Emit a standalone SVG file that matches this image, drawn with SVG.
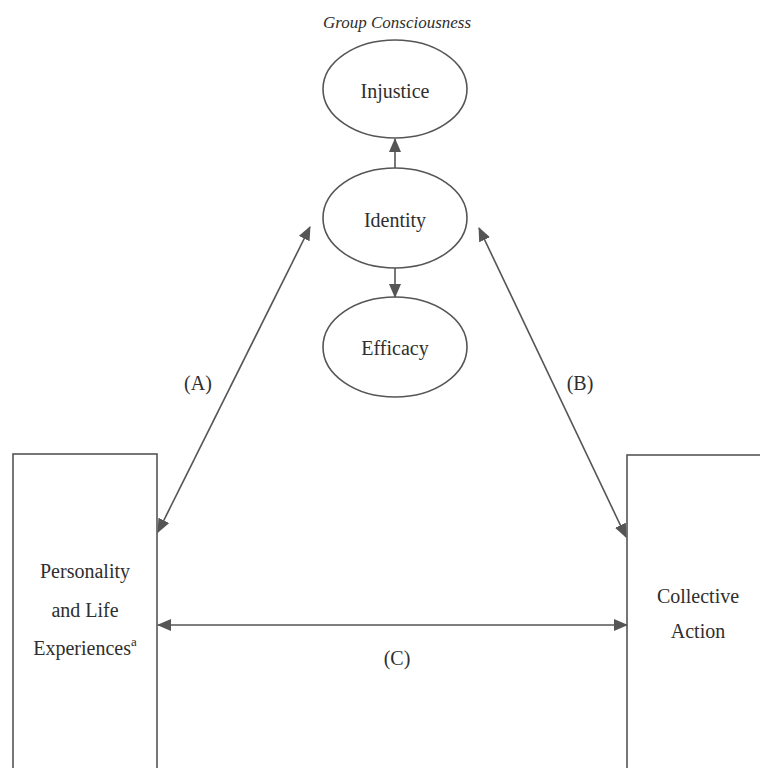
<svg xmlns="http://www.w3.org/2000/svg" width="760" height="768" viewBox="0 0 760 768">
<style>
.t{font-family:"Liberation Serif","Times New Roman",serif;font-size:20px;fill:#2e2e2e;text-anchor:middle}
.shape{fill:none;stroke:#555;stroke-width:1.6}
.c{stroke:#555;stroke-width:1.6;fill:none}
</style>
<defs>
<marker id="ah" markerUnits="userSpaceOnUse" markerWidth="14" markerHeight="12" refX="13" refY="6" orient="auto-start-reverse" viewBox="0 0 14 12">
<path d="M0,0 L14,6 L0,12 Z" fill="#555"/>
</marker>
</defs>
<rect width="760" height="768" fill="#fff"/>
<text class="t" x="397" y="28" style="font-style:italic;font-size:17px">Group Consciousness</text>
<g id="injustice">
<ellipse class="shape" cx="395" cy="89" rx="72" ry="49"/>
<text class="t" x="395" y="98">Injustice</text>
</g>
<g id="identity">
<ellipse class="shape" cx="395" cy="218" rx="72" ry="50"/>
<text class="t" x="395" y="227">Identity</text>
</g>
<g id="efficacy">
<ellipse class="shape" cx="395" cy="347" rx="72" ry="50"/>
<text class="t" x="395" y="355">Efficacy</text>
</g>
<g id="personality">
<rect class="shape" x="13" y="454" width="144" height="316"/>
<text class="t" x="85" y="578">Personality</text>
<text class="t" x="85" y="617">and Life</text>
<text class="t" x="85" y="655">Experiences<tspan font-size="13" dy="-9">a</tspan></text>
</g>
<g id="collective">
<rect class="shape" x="627" y="455" width="150" height="316"/>
<text class="t" x="698" y="603">Collective</text>
<text class="t" x="698" y="638">Action</text>
</g>
<g id="connectors">
<line class="c" x1="395" y1="168" x2="395" y2="139" marker-end="url(#ah)"/>
<line class="c" x1="395" y1="268" x2="395" y2="297" marker-end="url(#ah)"/>
<line class="c" x1="158" y1="532" x2="310" y2="227" marker-start="url(#ah)" marker-end="url(#ah)"/>
<line class="c" x1="479" y1="228" x2="626" y2="537" marker-start="url(#ah)" marker-end="url(#ah)"/>
<line class="c" x1="158" y1="625" x2="627" y2="625" marker-start="url(#ah)" marker-end="url(#ah)"/>
<text class="t" x="198" y="390">(A)</text>
<text class="t" x="580" y="390">(B)</text>
<text class="t" x="397" y="665">(C)</text>
</g>
</svg>
